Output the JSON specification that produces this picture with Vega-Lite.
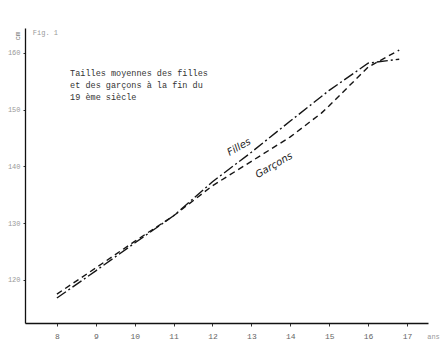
{
  "$schema": "https://vega.github.io/schema/vega-lite/v6.json",
  "width": 403,
  "height": 295,
  "autosize": {"type": "none"},
  "padding": {"left": 25, "top": 28, "right": 14, "bottom": 21},
  "background": "#ffffff",
  "config": {"view": {"stroke": null}},
  "layer": [
    {
      "data": {"values": [
        {"age": 8, "taille": 116.8, "sexe": "Filles"},
        {"age": 9, "taille": 121.6, "sexe": "Filles"},
        {"age": 10, "taille": 126.5, "sexe": "Filles"},
        {"age": 11, "taille": 131.3, "sexe": "Filles"},
        {"age": 12, "taille": 137.3, "sexe": "Filles"},
        {"age": 13, "taille": 142.5, "sexe": "Filles"},
        {"age": 14, "taille": 148.0, "sexe": "Filles"},
        {"age": 15, "taille": 153.4, "sexe": "Filles"},
        {"age": 16, "taille": 158.2, "sexe": "Filles"},
        {"age": 16.8, "taille": 158.9, "sexe": "Filles"},
        {"age": 8, "taille": 117.5, "sexe": "Garçons"},
        {"age": 9, "taille": 122.1, "sexe": "Garçons"},
        {"age": 10, "taille": 126.8, "sexe": "Garçons"},
        {"age": 11, "taille": 131.3, "sexe": "Garçons"},
        {"age": 12, "taille": 136.6, "sexe": "Garçons"},
        {"age": 13, "taille": 140.9, "sexe": "Garçons"},
        {"age": 14, "taille": 145.2, "sexe": "Garçons"},
        {"age": 14.8, "taille": 149.4, "sexe": "Garçons"},
        {"age": 15, "taille": 150.7, "sexe": "Garçons"},
        {"age": 16, "taille": 157.5, "sexe": "Garçons"},
        {"age": 16.8, "taille": 160.5, "sexe": "Garçons"}
      ]},
      "mark": {"type": "line", "strokeWidth": 1.4, "color": "#151515"},
      "encoding": {
        "x": {
          "field": "age", "type": "quantitative",
          "scale": {"domain": [7.18, 17.54], "nice": false, "zero": false},
          "axis": {
            "values": [8, 9, 10, 11, 12, 13, 14, 15, 16, 17],
            "title": null, "grid": false,
            "domainColor": "#111", "domainWidth": 1.6,
            "tickColor": "#333", "tickSize": 3, "tickOffset": 0,
            "labelFont": "Liberation Mono", "labelFontSize": 8, "labelColor": "#666",
            "labelPadding": 6
          }
        },
        "y": {
          "field": "taille", "type": "quantitative",
          "scale": {"domain": [112.4, 164.4], "nice": false, "zero": false},
          "axis": {
            "values": [120, 130, 140, 150, 160],
            "title": null, "grid": false,
            "domainColor": "#111", "domainWidth": 1.3,
            "tickColor": "#333", "tickSize": 2,
            "labelFont": "Liberation Mono", "labelFontSize": 7, "labelColor": "#999",
            "labelPadding": 3
          }
        },
        "detail": {"field": "sexe"},
        "strokeDash": {
          "field": "sexe", "type": "nominal",
          "scale": {"domain": ["Filles", "Garçons"], "range": [[11, 3, 2, 3], [6, 4]]},
          "legend": null
        }
      }
    },
    {
      "data": {"values": [
        {"age": 8.34, "taille": 156.5, "t": "Tailles moyennes des filles"},
        {"age": 8.34, "taille": 154.4, "t": "et des garçons à la fin du"},
        {"age": 8.34, "taille": 152.3, "t": "19 ème siècle"}
      ]},
      "mark": {"type": "text", "align": "left", "baseline": "middle", "font": "Liberation Mono", "fontSize": 8.5, "color": "#333"},
      "encoding": {
        "x": {"field": "age", "type": "quantitative"},
        "y": {"field": "taille", "type": "quantitative"},
        "text": {"field": "t"}
      }
    },
    {
      "data": {"values": [
        {"age": 12.68, "taille": 143.4, "t": "Filles"},
        {"age": 13.58, "taille": 140.2, "t": "Garçons"}
      ]},
      "mark": {"type": "text", "align": "center", "baseline": "middle", "font": "DejaVu Sans", "fontStyle": "italic", "fontSize": 10, "color": "#222", "angle": 330},
      "encoding": {
        "x": {"field": "age", "type": "quantitative"},
        "y": {"field": "taille", "type": "quantitative"},
        "text": {"field": "t"}
      }
    },
    {
      "data": {"values": [
        {"age": 17.52, "taille": 110.0, "t": "ans"},
        {"age": 7.38, "taille": 163.5, "t": "Fig. 1"}
      ]},
      "mark": {"type": "text", "align": "left", "baseline": "middle", "font": "Liberation Mono", "fontSize": 7, "color": "#999"},
      "encoding": {
        "x": {"field": "age", "type": "quantitative"},
        "y": {"field": "taille", "type": "quantitative"},
        "text": {"field": "t"}
      }
    },
    {
      "data": {"values": [
        {"age": 7.0, "taille": 163.0, "t": "cm"}
      ]},
      "mark": {"type": "text", "align": "center", "baseline": "middle", "font": "Liberation Mono", "fontSize": 7, "color": "#777", "angle": 270},
      "encoding": {
        "x": {"field": "age", "type": "quantitative"},
        "y": {"field": "taille", "type": "quantitative"},
        "text": {"field": "t"}
      }
    }
  ]
}
